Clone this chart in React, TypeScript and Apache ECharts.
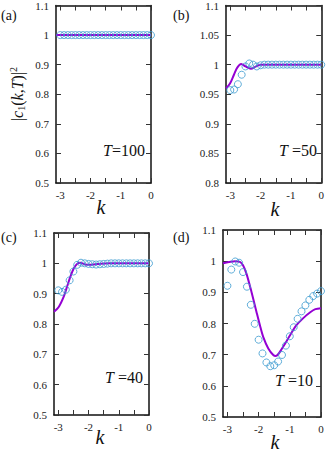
import React, { useEffect, useRef } from "react";
import * as echarts from "echarts";

const K = [-3, -2.875, -2.75, -2.625, -2.5, -2.375, -2.25, -2.125, -2, -1.875, -1.75, -1.625, -1.5, -1.375, -1.25, -1.125, -1, -0.875, -0.75, -0.625, -0.5, -0.375, -0.25, -0.125, 0];

const circA = [1, 1, 1, 1, 1, 1, 1, 1, 1, 1, 1, 1, 1, 1, 1, 1, 1, 1, 1, 1, 1, 1, 1, 1, 1];
const circB = [0.957, 0.958, 0.967, 0.983, 0.997, 1.002, 1.0, 0.997, 0.999, 1, 1, 1, 1, 1, 1, 1, 1, 1, 1, 1, 1, 1, 1, 1, 1];
const circC = [0.911, 0.906, 0.913, 0.944, 0.973, 0.995, 1.002, 1.0, 0.998, 0.997, 0.996, 0.997, 0.998, 0.999, 1, 1, 1, 1, 1, 1, 1, 1, 1, 1, 1];
const circD = [0.921, 0.973, 0.999, 0.995, 0.965, 0.918, 0.86, 0.799, 0.748, 0.704, 0.675, 0.663, 0.666, 0.678, 0.699, 0.729, 0.759, 0.788, 0.815, 0.839, 0.858, 0.876, 0.888, 0.896, 0.904];

const lineAk = [-3.1416, 0];
const lineAv = [1, 1];
const lineBk = [-3.1416, -3.01, -2.88, -2.77, -2.64, -2.5, -2.32, -2.15, -2.0, -1.5, 0];
const lineBv = [0.96, 0.968, 0.983, 0.995, 1.001, 0.997, 0.993, 0.997, 1.0, 1.0, 1.0];
const lineCk = [-3.1416, -2.98, -2.82, -2.71, -2.6, -2.49, -2.38, -2.27, -2.11, -1.94, -1.78, -1.6, -1.3, 0];
const lineCv = [0.84, 0.857, 0.89, 0.923, 0.956, 0.983, 0.998, 1.002, 0.996, 0.995, 0.997, 0.999, 1.0, 1.0];
const lineDk = [-3.1416, -2.95, -2.76, -2.6, -2.5, -2.39, -2.23, -2.07, -1.96, -1.85, -1.69, -1.53, -1.45, -1.36, -1.26, -1.1, -0.935, -0.8, -0.56, -0.345, -0.18, 0];
const lineDv = [0.993, 0.997, 1.0, 0.998, 0.987, 0.96, 0.902, 0.838, 0.795, 0.756, 0.72, 0.699, 0.696, 0.703, 0.718, 0.744, 0.772, 0.793, 0.818, 0.836, 0.846, 0.849];

const xTicks = [-3, -2.5, -2, -1.5, -1, -0.5, 0];
const xLabels = [-3, -2, -1, 0];

const panels = [
  { grid: { left: 56, top: 5, width: 95, height: 178 }, yMin: 0.5, yMax: 1.1, yStep: 0.1, circ: circA, lk: lineAk, lv: lineAv, tag: "(a)", tagPos: [1, 15], T: "=100", Tsp: "", TPos: [103, 150], kPos: [101, 207] },
  { grid: { left: 226, top: 4.5, width: 97, height: 178.5 }, yMin: 0.8, yMax: 1.1, yStep: 0.05, circ: circB, lk: lineBk, lv: lineBv, tag: "(b)", tagPos: [173, 15], T: "=50", Tsp: " ", TPos: [279, 150], kPos: [275, 209] },
  { grid: { left: 54, top: 233, width: 95, height: 182 }, yMin: 0.5, yMax: 1.1, yStep: 0.1, circ: circC, lk: lineCk, lv: lineCv, tag: "(c)", tagPos: [1, 237], T: "=40", Tsp: " ", TPos: [105, 377], kPos: [100, 437] },
  { grid: { left: 223, top: 230, width: 98, height: 187 }, yMin: 0.5, yMax: 1.1, yStep: 0.1, circ: circD, lk: lineDk, lv: lineDv, tag: "(d)", tagPos: [173, 237], T: "=10", Tsp: " ", TPos: [275, 380], kPos: [275, 442] },
];

const FONT = "Liberation Serif";
const PURPLE = "#9400d3";
const BLUE = "#3a9ad0";

export default function App() {
  const ref = useRef<HTMLDivElement>(null);
  useEffect(() => {
    if (!ref.current) return;
    const chart = echarts.init(ref.current, undefined, { renderer: "svg" });
    const grids: any[] = [];
    const xAxes: any[] = [];
    const yAxes: any[] = [];
    const series: any[] = [];
    const graphics: any[] = [];
    const axisLine = { show: true, onZero: false, lineStyle: { color: "#111", width: 1.5 } };
    const tick = { show: true, inside: true, length: 5, lineStyle: { color: "#333", width: 1 } };
    const lbl = { color: "#222", fontFamily: FONT, fontSize: 11 };
    panels.forEach((p, i) => {
      grids.push({ ...p.grid, containLabel: false });
      const xb = xAxes.length;
      xAxes.push({
        type: "value", gridIndex: i, position: "bottom", min: -Math.PI, max: 0,
        axisLine, splitLine: { show: false },
        axisTick: { ...tick, customValues: xTicks },
        axisLabel: { ...lbl, margin: 6, customValues: xLabels, formatter: (v: number) => String(v) },
      });
      xAxes.push({
        type: "value", gridIndex: i, position: "top", min: -Math.PI, max: 0,
        axisLine, splitLine: { show: false },
        axisTick: { ...tick, customValues: xTicks },
        axisLabel: { show: false },
      });
      const yb = yAxes.length;
      yAxes.push({
        type: "value", gridIndex: i, position: "left", min: p.yMin, max: p.yMax, interval: p.yStep,
        axisLine, splitLine: { show: false }, axisTick: tick,
        axisLabel: { ...lbl, margin: 7, formatter: (v: number) => String(Math.round(v * 100) / 100) },
      });
      yAxes.push({
        type: "value", gridIndex: i, position: "right", min: p.yMin, max: p.yMax, interval: p.yStep,
        axisLine, splitLine: { show: false }, axisTick: tick, axisLabel: { show: false },
      });
      series.push({
        type: "line", xAxisIndex: xb, yAxisIndex: yb,
        data: p.lk.map((k, j) => [k, p.lv[j]]),
        showSymbol: false, smooth: 0.3,
        lineStyle: { color: PURPLE, width: 2 }, z: 2, clip: true,
      });
      series.push({
        type: "scatter", xAxisIndex: xb, yAxisIndex: yb,
        data: K.map((k, j) => [k, p.circ[j]]),
        symbol: "circle", symbolSize: 7, clip: false,
        itemStyle: { color: "transparent", borderColor: BLUE, borderWidth: 1 }, z: 3,
      });
      graphics.push({
        type: "text", x: p.tagPos[0], y: p.tagPos[1],
        style: { text: p.tag, fontFamily: FONT, fontSize: 14, fill: "#111", textVerticalAlign: "middle" },
      });
      graphics.push({
        type: "text", x: p.TPos[0], y: p.TPos[1],
        style: {
          text: "{i|T}{n|" + p.Tsp + p.T + "}",
          textVerticalAlign: "middle",
          rich: {
            i: { fontFamily: FONT, fontSize: 16, fontStyle: "italic", fill: "#111" },
            n: { fontFamily: FONT, fontSize: 16, fill: "#111" },
          },
        },
      });
      graphics.push({
        type: "text", x: p.kPos[0], y: p.kPos[1],
        style: { text: "k", fontFamily: FONT, fontSize: 20, fontStyle: "italic", fill: "#111", textAlign: "center", textVerticalAlign: "middle" },
      });
    });
    graphics.push({
      type: "text", x: 17, y: 94, rotation: Math.PI / 2,
      style: {
        text: "{n||}{i|c}{s|1}{n|(}{i|k}{n|,}{i|T}{n|)|}{p|2}",
        textAlign: "center", textVerticalAlign: "middle",
        rich: {
          n: { fontFamily: FONT, fontSize: 16, fill: "#111" },
          i: { fontFamily: FONT, fontSize: 16, fontStyle: "italic", fill: "#111" },
          s: { fontFamily: FONT, fontSize: 10, fill: "#111", padding: [8, 0, 0, 0] },
          p: { fontFamily: FONT, fontSize: 10, fill: "#111", padding: [0, 0, 8, 0] },
        },
      },
    });
    chart.setOption({
      animation: false,
      backgroundColor: "#fff",
      grid: grids,
      xAxis: xAxes,
      yAxis: yAxes,
      series,
      graphic: graphics,
    });
    return () => chart.dispose();
  }, []);
  return <div ref={ref} style={{ position: "fixed", left: 0, top: 0, width: 327, height: 452 }} />;
}
